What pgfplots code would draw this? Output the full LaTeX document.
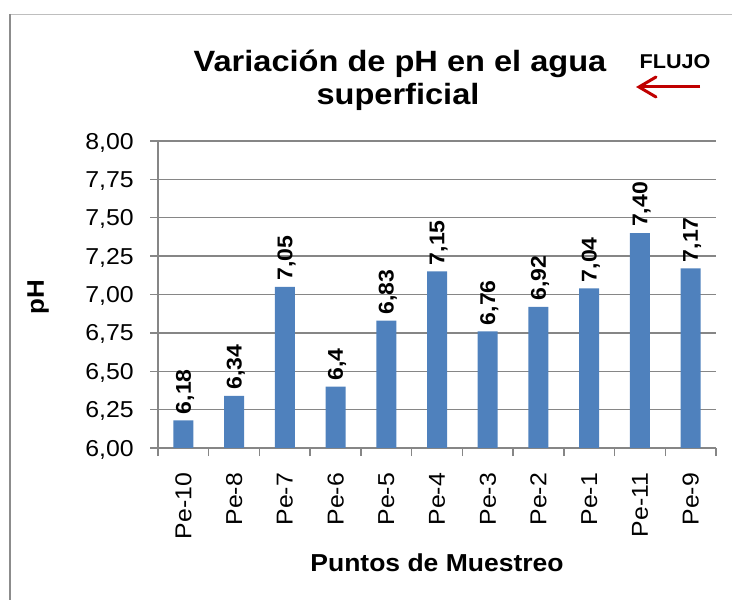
\documentclass[border=0pt]{standalone}
\usepackage{fontspec}
\setmainfont{Liberation Sans}[FakeStretch=1.08]
\newfontfamily\titlefont{Liberation Sans}[FakeStretch=1.11]
\usepackage{pgfplots}
\usepackage{pgfplotstable}
\pgfplotsset{compat=1.18}
\definecolor{barblue}{HTML}{4F81BD}
\definecolor{gridgray}{HTML}{868686}
\definecolor{arrowred}{HTML}{C00000}
\definecolor{bordergray}{HTML}{8C8C8C}
\definecolor{bordertop}{HTML}{BEBEBE}

\pgfplotstableread{
x y lab
0 6.18 6,18
1 6.34 6,34
2 7.05 7,05
3 6.40 6,4
4 6.83 6,83
5 7.15 7,15
6 6.76 6,76
7 6.92 6,92
8 7.04 7,04
9 7.40 7,40
10 7.17 7,17
}\datatable

\begin{document}
\begin{tikzpicture}[x=0.75pt,y=0.75pt]
\begin{axis}[
  at={(118.5pt,114pt)}, anchor=south west,
  scale only axis, width=418.5pt, height=230.25pt,
  xmin=-0.5, xmax=10.5, ymin=6, ymax=8,
  ybar, bar width=15pt,
  axis x line*=bottom, axis y line*=left,
  axis line style={gridgray, line width=1.1pt},
  ymajorgrids, grid style={gridgray, line width=1.1pt},
  ytick={6,6.25,6.5,6.75,7,7.25,7.5,7.75,8},
  yticklabels={{6,00},{6,25},{6,50},{6,75},{7,00},{7,25},{7,50},{7,75},{8,00}},
  xtick={0,1,2,3,4,5,6,7,8,9,10},
  xticklabels={Pe-10,Pe-8,Pe-7,Pe-6,Pe-5,Pe-4,Pe-3,Pe-2,Pe-1,Pe-11,Pe-9},
  minor xtick={-0.5,0.5,1.5,2.5,3.5,4.5,5.5,6.5,7.5,8.5,9.5,10.5},
  tick align=outside, major tick length=6pt, minor tick length=6pt,
  every major x tick/.style={draw=none},
  tick style={gridgray, line width=1.1pt},
  ticklabel style={font=\fontsize{17.25}{20}\selectfont, inner sep=0pt, text depth=0pt},
  yticklabel style={anchor=east},
  yticklabel shift=12pt,
  xticklabel style={rotate=90, anchor=east},
  xticklabel shift=12.5pt,
  nodes near coords,
  point meta=explicit symbolic,
  every node near coord/.append style={rotate=90, anchor=west, inner sep=4.5pt,
     text depth=0pt, font=\bfseries\fontsize{16}{18}\selectfont},
  clip=false,
]
\addplot[fill=barblue, draw=none] table[x=x, y=y, meta=lab] {\datatable};
\end{axis}
% chart border
\draw[bordertop, line width=0.75pt] (10,585.5) -- (732,585.5);
\draw[bordergray, line width=1.5pt] (10,586) -- (10,0);
% titles
\node[anchor=base, inner sep=0pt, font=\titlefont\bfseries\fontsize{22}{26}\selectfont] at (400,528) {Variación de pH en el agua};
\node[anchor=base, inner sep=0pt, font=\titlefont\bfseries\fontsize{22}{26}\selectfont] at (398,495) {superficial};
\node[anchor=base, inner sep=0pt, font=\bfseries\fontsize{15}{18}\selectfont] at (675,531) {FLUJO};
\draw[arrowred, line width=2.25pt] (700,513) -- (640,513);
\draw[arrowred, line width=2.25pt, line cap=round, line join=miter] (656,503) -- (639,513) -- (656,523);
\node[rotate=90, inner sep=0pt, font=\bfseries\fontsize{18}{21}\selectfont] at (38,303) {pH};
\node[anchor=base, inner sep=0pt, font=\bfseries\fontsize{18.4}{22}\selectfont] at (437,28) {Puntos de Muestreo};
\pgfresetboundingbox
\path[use as bounding box] (0,0) rectangle (732,600);
\end{tikzpicture}
\end{document}
